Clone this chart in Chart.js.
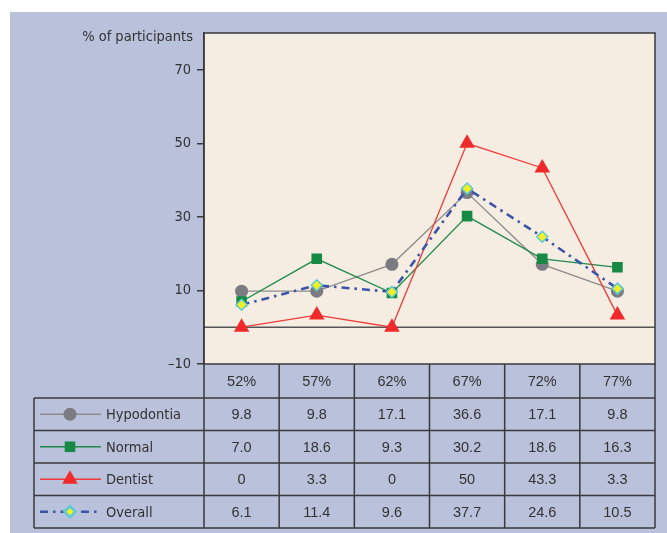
<!DOCTYPE html>
<html>
<head>
<meta charset="utf-8">
<script src="https://cdn.jsdelivr.net/npm/chart.js@4"></script>
<style>
  html, body { margin: 0; padding: 0; background: #fff; }
  #wrap { width: 667px; height: 533px; }
</style>
</head>
<body>
<div id="wrap"><canvas id="chart" width="667" height="533"></canvas></div>
<script>
// chart data
const categories = ["52%", "57%", "62%", "67%", "72%", "77%"];
const hypodontia = [9.8, 9.8, 17.1, 36.6, 17.1, 9.8];
const normal = [7.0, 18.6, 9.3, 30.2, 18.6, 16.3];
const dentist = [0, 3.3, 0, 50, 43.3, 3.3];
const overall = [6.1, 11.4, 9.6, 37.7, 24.6, 10.5];
const yTicks = [-10, 10, 30, 50, 70];

const textColor = "#333";
const lineDark = "#3a3a3a";
const labelFont = "'DejaVu Sans Condensed', 'DejaVu Sans', sans-serif";
const numFont = "'Liberation Sans', Arial, sans-serif";

const oneDec = v => v.toFixed(1);
const plain = v => String(v);

// background panel + plot fill
const panelPlugin = {
    id: "panel",
    beforeDraw(chart) {
        const ctx = chart.ctx;
        const a = chart.chartArea;
        ctx.save();
        ctx.fillStyle = "#b9c1db";
        ctx.fillRect(10, 12, chart.width - 10, chart.height - 12);
        ctx.fillStyle = "#f5ede2";
        ctx.fillRect(a.left, a.top, a.right - a.left, a.bottom - a.top);
        // zero line
        const y0 = chart.scales.y.getPixelForValue(0);
        ctx.strokeStyle = "#555";
        ctx.lineWidth = 1.5;
        ctx.beginPath();
        ctx.moveTo(a.left, y0);
        ctx.lineTo(a.right, y0);
        ctx.stroke();
        ctx.restore();
    },
    afterDraw(chart) {
        const ctx = chart.ctx;
        const a = chart.chartArea;
        const x = chart.scales.x;
        const n = categories.length;
        const colW = (a.right - a.left) / n;
        const headH = 34;
        const rowH = 32.5;
        const tableLeft = 34;
        ctx.save();

        // y axis title
        ctx.fillStyle = textColor;
        ctx.font = "14.5px " + labelFont;
        ctx.textAlign = "right";
        ctx.textBaseline = "middle";
        ctx.fillText("% of participants", a.left - 11, a.top + 4);

        // plot frame
        ctx.strokeStyle = lineDark;
        ctx.lineWidth = 1.5;
        ctx.strokeRect(a.left, a.top, a.right - a.left, a.bottom - a.top);

        // header row
        const headTop = a.bottom;
        const bodyTop = headTop + headH;
        const bodyBottom = bodyTop + rowH * chart.data.datasets.length;
        ctx.font = "14.5px " + numFont;
        ctx.textAlign = "center";
        categories.forEach((c, i) => {
            ctx.fillText(c, x.getPixelForValue(i), headTop + headH / 2 + 1);
        });

        // grid lines
        ctx.beginPath();
        for (let i = 0; i <= n; i++) {
            const gx = a.left + i * colW;
            ctx.moveTo(gx, headTop);
            ctx.lineTo(gx, bodyBottom);
        }
        ctx.moveTo(tableLeft, bodyTop);
        ctx.lineTo(tableLeft, bodyBottom);
        for (let r = 0; r <= chart.data.datasets.length; r++) {
            const gy = bodyTop + r * rowH;
            ctx.moveTo(tableLeft, gy);
            ctx.lineTo(a.right, gy);
        }
        ctx.stroke();

        // rows
        chart.data.datasets.forEach((ds, r) => {
            const cy = bodyTop + r * rowH + rowH / 2;
            // legend sample
            ctx.save();
            ctx.strokeStyle = ds.borderColor;
            ctx.lineWidth = ds.borderWidth;
            ctx.setLineDash(ds.borderDash || []);
            ctx.beginPath();
            ctx.moveTo(40, cy);
            ctx.lineTo(101, cy);
            ctx.stroke();
            ctx.setLineDash([]);
            ctx.fillStyle = ds.pointBackgroundColor;
            ctx.strokeStyle = ds.pointBorderColor;
            Chart.helpers.drawPoint(ctx, {
                pointStyle: ds.pointStyle,
                radius: ds.pointRadius,
                borderWidth: ds.pointBorderWidth,
                rotation: 0
            }, 70, cy);
            ctx.restore();

            ctx.fillStyle = textColor;
            ctx.font = "14.5px " + labelFont;
            ctx.textAlign = "left";
            ctx.fillText(ds.label, 106, cy + 1);

            ctx.font = "14.5px " + numFont;
            ctx.textAlign = "center";
            ds.data.forEach((v, i) => {
                ctx.fillText(ds.fmt(v), x.getPixelForValue(i), cy + 1);
            });
        });
        ctx.restore();
    }
};

new Chart(document.getElementById("chart").getContext("2d"), {
    type: "line",
    data: {
        labels: categories,
        datasets: [
            {
                label: "Hypodontia", data: hypodontia, fmt: oneDec, order: 3,
                borderColor: "#8c8c8c", borderWidth: 1.3,
                pointStyle: "circle", pointRadius: 6.5,
                pointBackgroundColor: "#7b7b82", pointBorderColor: "#7b7b82", pointBorderWidth: 0
            },
            {
                label: "Normal", data: normal, fmt: oneDec, order: 2,
                borderColor: "#1f8a4a", borderWidth: 1.3,
                pointStyle: "rect", pointRadius: 7.5,
                pointBackgroundColor: "#168a44", pointBorderColor: "#168a44", pointBorderWidth: 0
            },
            {
                label: "Dentist", data: dentist, fmt: plain, order: 1,
                borderColor: "#f03a3a", borderWidth: 1.3,
                pointStyle: "triangle", pointRadius: 9,
                pointBackgroundColor: "#f02a2a", pointBorderColor: "#f02a2a", pointBorderWidth: 0
            },
            {
                label: "Overall", data: overall, fmt: oneDec, order: 0,
                borderColor: "#3a55a8", borderWidth: 2.6, borderDash: [8, 5, 2.5, 5],
                pointStyle: "rectRot", pointRadius: 5.5,
                pointBackgroundColor: "#f2f020", pointBorderColor: "#5cc8d8", pointBorderWidth: 1.5
            }
        ]
    },
    options: {
        responsive: false,
        animation: false,
        events: [],
        layout: { padding: { left: 10, top: 33, right: 12, bottom: 169 } },
        plugins: { legend: { display: false }, tooltip: { enabled: false } },
        elements: { line: { tension: 0 } },
        scales: {
            x: { type: "category", offset: true, display: false },
            y: {
                min: -10, max: 80,
                afterBuildTicks: s => { s.ticks = yTicks.map(v => ({ value: v })); },
                afterFit: s => { s.width = 194; },
                border: { display: true, color: lineDark, width: 1.5 },
                grid: { drawOnChartArea: false, drawTicks: true, tickLength: 7, color: lineDark, lineWidth: 1.5 },
                ticks: {
                    padding: 6, color: textColor, font: { family: labelFont, size: 14.5 },
                    callback: v => (v < 0 ? "\u2013" + Math.abs(v) : String(v))
                }
            }
        }
    },
    plugins: [panelPlugin]
});
</script>
</body>
</html>
